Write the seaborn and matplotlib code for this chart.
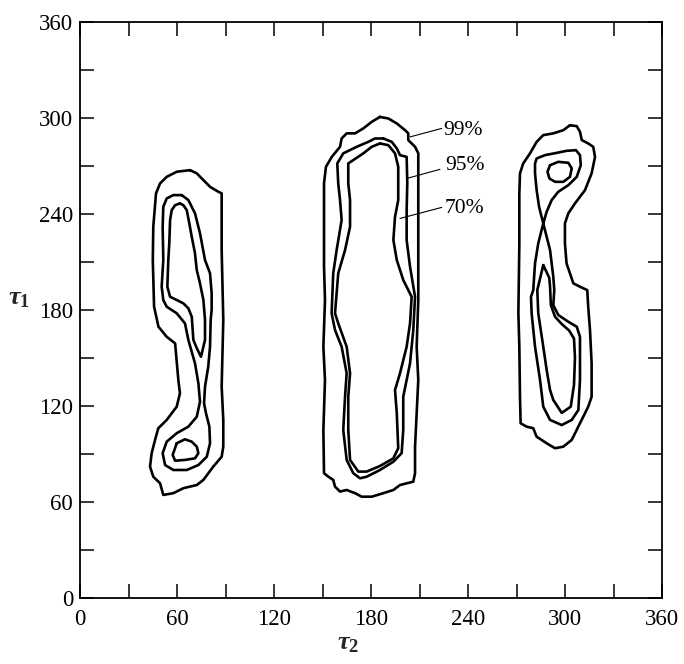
import pandas as pd
import seaborn as sns
import matplotlib.pyplot as plt
from matplotlib.ticker import MultipleLocator

# contour outlines, (tau2, tau1) in degrees
left_99 = [(68.0, 267.3), (59.8, 266.3), (53.6, 263.1), (49.5, 259.0), (47.0, 252.8), (45.3, 231.9),
           (45.0, 211.0), (45.8, 181.9), (48.5, 169.4), (53.6, 163.1), (58.8, 159.0), (60.8, 136.1),
           (61.8, 127.8), (59.8, 119.4), (53.6, 111.1), (48.4, 105.9), (46.4, 98.6), (44.3, 90.3),
           (43.3, 81.9), (45.3, 75.6), (49.5, 71.5), (51.5, 64.2), (57.7, 65.3), (63.9, 68.4),
           (72.2, 70.4), (76.3, 73.6), (82.4, 81.9), (87.6, 88.1), (88.6, 94.4), (88.6, 111.1),
           (87.6, 131.9), (88.6, 173.6), (87.6, 217.3), (87.6, 252.8), (85.5, 253.8), (80.4, 256.9),
           (75.3, 262.1), (72.2, 265.3)]
left_95 = [(62.9, 251.7), (57.7, 251.7), (53.6, 249.6), (51.5, 244.4), (51.1, 231.9), (51.5, 211.1),
           (50.5, 194.4), (51.5, 186.1), (53.6, 181.9), (59.8, 177.8), (64.9, 171.5), (67.0, 161.1),
           (71.1, 146.5), (73.2, 134.0), (74.2, 122.5), (72.2, 113.1), (67.0, 106.9), (59.8, 102.8),
           (53.6, 97.5), (51.1, 90.3), (52.6, 82.9), (57.7, 79.8), (66.0, 79.8), (73.2, 82.9),
           (78.4, 88.1), (80.4, 96.5), (80.0, 106.9), (77.9, 115.3), (76.7, 121.5), (77.3, 131.9),
           (79.3, 144.4), (80.4, 156.9), (80.8, 173.6), (81.4, 179.8), (81.4, 190.3), (80.4, 202.8),
           (77.3, 211.1), (74.2, 227.8), (71.1, 240.3), (67.0, 248.6)]
left_70a = [(61.8, 246.5), (58.8, 245.4), (56.7, 242.3), (55.7, 236.1), (55.2, 221.5), (54.6, 211.1),
            (54.0, 194.4), (55.7, 188.1), (59.8, 186.1), (63.9, 184.0), (67.0, 180.9), (69.1, 175.6),
            (70.1, 161.1), (72.2, 156.0), (74.8, 150.6), (77.3, 161.1), (77.3, 173.6), (76.3, 186.1),
            (74.2, 196.5), (72.2, 204.8), (71.1, 215.3), (69.1, 225.6), (67.6, 234.0), (66.0, 242.3),
            (63.9, 245.4)]
left_70b = [(59.8, 96.5), (64.9, 99.0), (69.1, 97.5), (72.2, 94.4), (73.2, 90.3), (71.1, 87.1),
            (64.9, 86.1), (58.8, 85.6), (57.3, 89.2)]

mid_99 = [(185.5, 300.6), (180.4, 297.5), (175.2, 293.4), (170.1, 290.3), (164.9, 290.3), (161.8, 287.1),
          (160.8, 281.9), (155.7, 275.6), (152.1, 269.4), (150.9, 259.0), (150.9, 238.1), (150.9, 206.9),
          (151.5, 186.1), (150.5, 156.9), (151.5, 136.1), (150.5, 104.8), (150.9, 77.8), (153.6, 75.6),
          (156.6, 73.6), (157.7, 69.4), (160.8, 66.3), (164.9, 67.3), (170.1, 65.3), (174.2, 63.1),
          (180.4, 63.1), (187.6, 65.3), (193.8, 67.3), (197.9, 70.4), (206.1, 72.5), (207.2, 77.8),
          (207.2, 94.4), (208.2, 115.3), (209.2, 136.1), (208.2, 156.9), (209.2, 186.1), (209.2, 227.8),
          (209.2, 259.0), (209.2, 277.8), (207.2, 281.9), (203.0, 286.1), (203.0, 290.3), (201.0, 292.3),
          (195.9, 296.5), (190.7, 299.6)]
mid_95 = [(187.6, 287.1), (182.4, 287.1), (178.3, 285.0), (171.1, 281.9), (162.8, 277.8), (159.1, 271.5),
          (159.7, 259.0), (160.8, 248.6), (161.8, 236.1), (158.7, 217.3), (156.6, 202.8), (155.6, 177.8),
          (157.7, 167.3), (161.8, 156.9), (164.9, 140.3), (163.9, 125.6), (162.8, 104.8), (164.9, 86.1),
          (169.0, 77.8), (173.2, 74.6), (177.3, 75.6), (185.5, 79.8), (193.8, 85.0), (198.9, 90.3),
          (199.9, 104.8), (199.9, 125.6), (204.1, 146.5), (206.1, 167.3), (207.2, 188.1), (204.1, 206.9),
          (202.0, 223.6), (202.0, 242.3), (202.4, 259.0), (202.0, 275.6), (197.9, 276.7), (195.9, 280.9),
          (192.8, 285.0)]
mid_70 = [(185.5, 284.0), (180.4, 281.9), (175.2, 277.8), (169.0, 273.6), (165.9, 271.5), (165.9, 259.0),
          (167.0, 248.6), (167.0, 231.9), (163.9, 217.3), (159.7, 202.8), (157.7, 177.8), (159.7, 171.5),
          (164.9, 156.9), (167.0, 140.3), (165.9, 125.6), (165.9, 104.8), (167.0, 86.1), (172.1, 78.8),
          (177.3, 78.8), (185.5, 82.3), (193.8, 87.1), (196.8, 93.4), (195.9, 115.3), (194.8, 129.8),
          (197.9, 140.3), (202.0, 156.9), (204.1, 171.5), (205.1, 188.1), (199.9, 198.6), (195.9, 211.1),
          (193.8, 223.6), (194.8, 238.1), (196.8, 248.6), (196.8, 269.4), (194.8, 277.8), (190.7, 282.9)]

right_99 = [(303.0, 295.4), (298.9, 292.3), (292.7, 290.3), (286.5, 289.2), (282.4, 285.0), (278.3, 277.8),
            (274.1, 271.5), (272.1, 265.3), (271.7, 252.8), (271.7, 221.5), (271.1, 177.8), (271.7, 156.9),
            (272.1, 125.6), (272.5, 109.0), (276.2, 106.9), (280.3, 105.9), (282.4, 100.6), (285.5, 98.6),
            (288.6, 96.5), (293.8, 93.4), (298.9, 94.4), (304.1, 98.6), (309.2, 109.0), (312.3, 115.3),
            (314.3, 119.4), (316.4, 125.6), (316.4, 146.5), (315.4, 167.3), (314.3, 181.9), (313.7, 192.3),
            (309.2, 194.4), (305.1, 196.5), (300.9, 209.0), (299.9, 221.5), (299.9, 234.0), (302.0, 240.3),
            (306.1, 246.5), (312.3, 254.8), (316.4, 265.3), (318.5, 275.6), (317.4, 281.9), (314.3, 284.0),
            (310.3, 286.1), (309.2, 291.3), (307.2, 294.8)]
right_95 = [(286.5, 234.0), (283.9, 244.4), (282.4, 254.8), (281.4, 265.3), (281.4, 271.5), (282.4, 274.6),
            (287.6, 276.7), (294.8, 278.1), (301.0, 279.4), (306.7, 279.8), (309.2, 276.7), (309.7, 270.4),
            (307.2, 263.1), (302.0, 257.9), (295.8, 253.8), (291.7, 248.6), (288.6, 241.3), (286.5, 234.0),
            (283.4, 221.5), (281.4, 209.0), (280.3, 192.3), (278.9, 188.1), (279.3, 177.8), (281.4, 156.9),
            (284.5, 136.1), (286.5, 119.4), (290.7, 111.1), (297.9, 107.9), (304.1, 111.1), (308.2, 117.3),
            (309.2, 136.1), (309.2, 163.1), (307.2, 169.4), (302.0, 172.5), (295.8, 176.7), (292.7, 182.9),
            (293.3, 192.3), (292.7, 200.6), (290.7, 217.3)]
right_70a = [(290.7, 270.4), (295.8, 272.5), (302.0, 271.9), (304.1, 268.4), (303.0, 263.1), (298.9, 260.0),
             (293.8, 260.0), (290.3, 262.1), (289.1, 266.3)]
right_70b = [(286.5, 207.9), (282.8, 192.3), (283.4, 177.8), (286.5, 156.9), (288.6, 142.3), (290.7, 129.8),
             (292.7, 123.6), (297.9, 115.5), (303.5, 119.4), (305.5, 133.0), (306.1, 150.0), (305.5, 162.0),
             (302.5, 167.0), (298.0, 171.0), (293.8, 175.6), (291.2, 182.9), (290.7, 194.4), (290.2, 200.0)]

levels = ['99%', '95%', '70%']
level_text_pos = [(224.5, 292.3), (225.7, 270.4), (225.7, 243.6)]
leader_from = [(204.1, 288.1), (202.0, 262.1), (197.9, 237.1)]
leader_to = [(223.7, 293.4), (222.6, 267.8), (223.7, 244.0)]

rings = {'left_99': left_99, 'left_95': left_95, 'left_70a': left_70a, 'left_70b': left_70b,
         'mid_99': mid_99, 'mid_95': mid_95, 'mid_70': mid_70,
         'right_99': right_99, 'right_95': right_95, 'right_70a': right_70a, 'right_70b': right_70b}

rows = []
for name, pts in rings.items():
    closed = pts + [pts[0]]
    for i, (t2, t1) in enumerate(closed):
        rows.append({'ring': name, 'order': i, 'tau2': t2, 'tau1': t1})
df = pd.DataFrame(rows)

sns.set_theme(style='ticks')
plt.rcParams['font.family'] = ['Liberation Serif', 'DejaVu Serif']
plt.rcParams['mathtext.fontset'] = 'custom'
plt.rcParams['mathtext.it'] = 'Liberation Serif:italic:bold'
plt.rcParams['mathtext.rm'] = 'Liberation Serif:bold'

fig = plt.figure(figsize=(6.84, 6.64), dpi=100)
ax = fig.add_axes([0.117, 0.100, 0.851, 0.867])

sns.lineplot(data=df, x='tau2', y='tau1', units='ring', estimator=None, sort=False,
             color='black', linewidth=1.9, solid_joinstyle='round', ax=ax)

for lab, pos, p0, p1 in zip(levels, level_text_pos, leader_from, leader_to):
    ax.plot([p0[0], p1[0]], [p0[1], p1[1]], color='black', linewidth=0.8)
    ax.text(pos[0], pos[1], lab, fontsize=15.5, ha='left', va='center', color='black')

ax.set_xlim(0, 360)
ax.set_ylim(0, 360)
ax.xaxis.set_major_locator(MultipleLocator(60))
ax.yaxis.set_major_locator(MultipleLocator(60))
ax.xaxis.set_minor_locator(MultipleLocator(30))
ax.yaxis.set_minor_locator(MultipleLocator(30))
ax.tick_params(which='both', direction='in', length=10, width=1.1, color='black',
               top=True, right=True, labelsize=16.5, labelcolor='black')
ax.tick_params(axis='x', pad=8)
ax.tick_params(axis='y', pad=5)
for s in ax.spines.values():
    s.set_linewidth(1.3)
    s.set_color('black')

ax.set_xlabel(r'$\tau_2$', fontsize=19)
ax.set_ylabel(r'$\tau_1$', fontsize=19, rotation=0)
ax.xaxis.set_label_coords(0.46, -0.062)
ax.yaxis.set_label_coords(-0.105, 0.5)

fig.savefig('out.png', dpi=100)
